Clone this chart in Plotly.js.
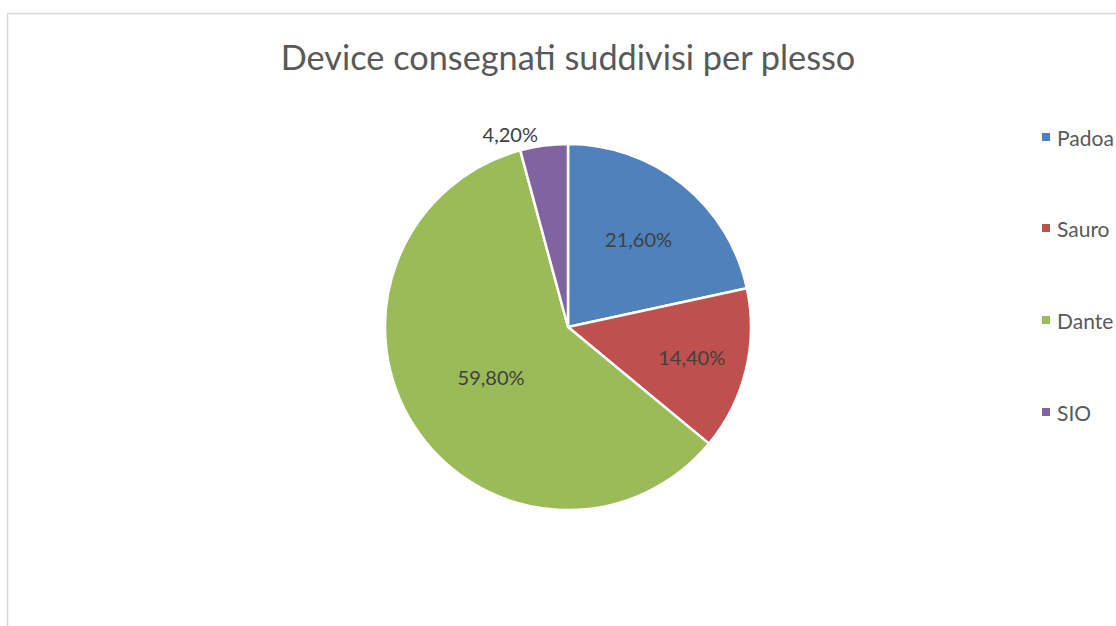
<!DOCTYPE html>
<html><head><meta charset="utf-8">
<script src="https://cdn.plot.ly/plotly-3.0.1.min.js"></script>
<style>html,body{margin:0;padding:0;background:#fff;overflow:hidden}</style>
</head><body>
<div id="chart" style="width:1116px;height:626px"></div>
<script>
const labels = ["Padoa", "Sauro", "Dante", "SIO"];
const values = [21.6, 14.4, 59.8, 4.2];
const colors = ["#4F81BD", "#C0504D", "#9BBB59", "#8064A2"];
const textPositions = ["inside", "inside", "inside", "outside"];

const W = 1116, H = 626;
const font = "Lato, 'Open Sans', sans-serif";

const trace = {
  type: "pie",
  labels: labels,
  values: values,
  sort: false,
  direction: "clockwise",
  rotation: 0,
  marker: {colors: colors, line: {color: "#ffffff", width: 2.5}},
  texttemplate: "%{percent:.2%}",
  textposition: textPositions,
  insidetextorientation: "horizontal",
  textfont: {family: font, size: 20, color: "#404040"},
  showlegend: false,
  hoverinfo: "label+percent",
  domain: {x: [(568-183)/W, (568+183)/W], y: [1-540/H, 1-114/H]}
};

const shapes = [{
  type: "rect", xref: "paper", yref: "paper",
  x0: 7.5/W, x1: 1.2, y0: -0.2, y1: 1-13.5/H,
  line: {color: "#d9d9d9", width: 1.5}, fillcolor: "rgba(0,0,0,0)", layer: "below"
}];
const annotations = [];
const legendY = [137, 228, 320, 412];
labels.forEach((lab, i) => {
  const cy = legendY[i];
  shapes.push({type: "rect", xref: "paper", yref: "paper",
    x0: 1042/W, x1: 1050/W, y0: 1-(cy+4)/H, y1: 1-(cy-4)/H,
    line: {width: 0}, fillcolor: colors[i]});
  annotations.push({xref: "paper", yref: "paper", x: 1055/W, y: 1-cy/H,
    xanchor: "left", yanchor: "middle", showarrow: false, text: lab,
    font: {family: font, size: 21, color: "#595959"}});
});

const layout = {
  width: W, height: H,
  margin: {l: 0, r: 0, t: 0, b: 0},
  paper_bgcolor: "#ffffff",
  separators: ",.",
  title: {text: "Device consegnati suddivisi per plesso", x: 568/W, xanchor: "center",
          y: 1-58/H, yanchor: "middle", font: {family: font, size: 34.3, color: "#595959"}},
  shapes: shapes,
  annotations: annotations,
  showlegend: false
};

Plotly.newPlot("chart", [trace], layout, {displayModeBar: false, staticPlot: true});
</script>
</body></html>
